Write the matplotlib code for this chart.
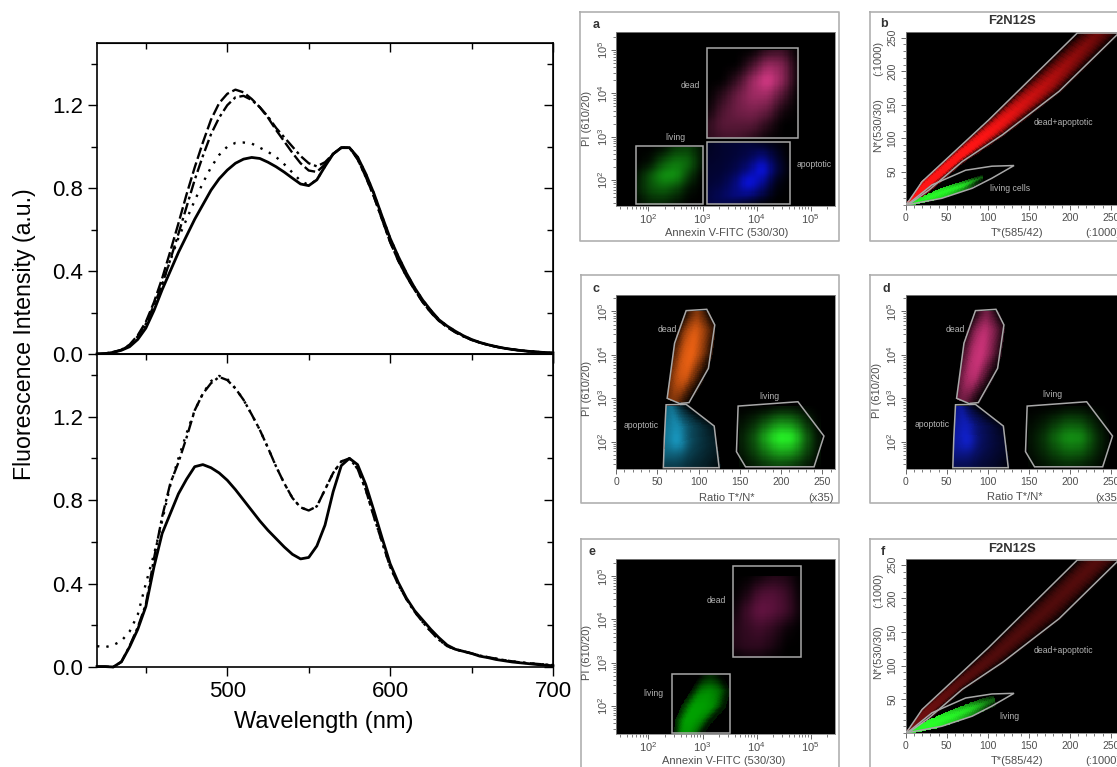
import numpy as np
import matplotlib
matplotlib.use("Agg")
import matplotlib.pyplot as plt
from matplotlib.colors import LinearSegmentedColormap
from matplotlib.ticker import MultipleLocator, FixedLocator, NullFormatter

plt.rcParams["font.family"] = ["Liberation Sans", "DejaVu Sans"]
plt.rcParams["mathtext.default"] = "regular"

# spectra, 5 nm steps
wl = np.arange(420, 705, 5)
a_solid_head = [0, .002, .008, .018, .035, .07, .125, .21, .31, .40, .49, .57, .65, .72, .79, .845, .887, .92, .94, .948, .943, .925, .903, .877, .848, .82, .812, .84, .905, .965, .995, .995]
a_dot_head = [0, .002, .008, .02, .04, .08, .14, .235, .34, .45, .56, .65, .74, .825, .9, .96, 1.0, 1.018, 1.02, 1.015, .995, .975, .95, .915, .875, .835, .815, .84, .905, .965, .995, .995]
a_dash_head = [0, .002, .01, .02, .045, .09, .155, .25, .365, .495, .63, .77, .9, 1.02, 1.13, 1.21, 1.255, 1.275, 1.262, 1.23, 1.19, 1.14, 1.08, 1.025, .97, .92, .885, .878, .915, .965, .995, .995]
a_dashdot_head = [0, .002, .008, .02, .04, .085, .145, .235, .335, .455, .58, .71, .84, .955, 1.06, 1.14, 1.2, 1.238, 1.245, 1.225, 1.19, 1.145, 1.09, 1.045, 1.0, .955, .92, .905, .925, .965, .995, .995]
a_tail = [.95, .87, .775, .665, .558, .47, .39, .32, .26, .21, .165, .135, .11, .088, .07, .056, .045, .036, .028, .022, .017, .013, .01, .007, .005]
a_tail_low = [.94, .855, .76, .65, .54, .45, .375, .31, .25, .2, .16, .13, .105, .085, .068, .055, .044, .035, .028, .022, .017, .013, .01, .007, .005]

b_solid_head = [.002, .002, 0, .025, .096, .18, .29, .48, .64, .735, .83, .90, .96, .97, .955, .93, .895, .85, .80, .75, .70, .655, .615, .575, .54, .518, .525, .58, .68, .84, .965, 1.0]
b_dashdot_head = [.002, .002, 0, .025, .1, .19, .3, .52, .72, .88, .98, 1.1, 1.23, 1.31, 1.36, 1.39, 1.375, 1.335, 1.28, 1.21, 1.136, 1.05, .96, .88, .81, .765, .75, .77, .85, .93, .985, 1.0]
b_dot_head = [.1, .095, .105, .125, .17, .25, .40, .54, .70, .87, 1.0, 1.12, 1.23, 1.31, 1.37, 1.395, 1.38, 1.335, 1.28, 1.21, 1.136, 1.05, .96, .88, .81, .765, .75, .77, .85, .93, .985, 1.0]
b_tail = [.97, .875, .75, .62, .495, .405, .33, .27, .225, .18, .14, .105, .085, .075, .065, .052, .045, .036, .03, .024, .02, .016, .012, .009, .006]
b_tail_low = [.95, .85, .72, .60, .48, .395, .325, .265, .215, .17, .13, .10, .085, .075, .065, .055, .047, .04, .033, .027, .022, .018, .015, .012, .009]

x_ticks = [500, 600, 700]
y_ticks = [0.0, 0.4, 0.8, 1.2]

# flow cytometry gates, in axis units (decades for the log axes)
a_gate_dead = [(3.08, 5.06), (4.76, 5.06), (4.76, 2.96), (3.08, 2.96)]
a_gate_apo = [(3.08, 2.88), (4.62, 2.88), (4.62, 1.45), (3.08, 1.45)]
a_gate_living = [(1.77, 2.78), (3.0, 2.78), (3.0, 1.45), (1.77, 1.45)]
e_gate_dead = [(3.56, 5.23), (4.82, 5.23), (4.82, 3.13), (3.56, 3.13)]
e_gate_living = [(2.43, 2.75), (3.51, 2.75), (3.51, 1.38), (2.43, 1.38)]
ratio_gate_dead = [(85, 5.02), (110, 5.05), (119.7, 4.69), (112, 3.69), (88.5, 2.9), (77, 2.88), (62, 3.0), (71, 4.27)]
ratio_gate_apo = [(60.7, 2.85), (85, 2.86), (119, 2.36), (125, 1.4), (57.4, 1.4), (58.6, 2.08)]
ratio_gate_living = [(148, 2.82), (220.5, 2.92), (252, 2.13), (240, 1.42), (157, 1.42), (146, 1.77)]
tn_gate_dead = [(1, 1), (20, 35), (101, 127), (209, 257), (275, 257), (258, 255), (187, 170), (118, 105), (69, 65), (28, 22), (5, 2)]
tn_gate_living = [(3, 1.5), (32, 30), (73, 52), (105, 58), (132, 59), (105, 40), (81, 25), (44, 10), (7, 1.5)]

# density clouds: left edge, right edge, levels read across them
a_dead_left = [(3.1, 5.0), (3.1, 4.65), (3.1, 4.3), (3.1, 3.95), (3.1, 3.6), (3.1, 3.3), (3.1, 3.0)]
a_dead_right = [(4.75, 5.0), (4.75, 4.65), (4.75, 4.3), (4.75, 3.95), (4.75, 3.6), (4.75, 3.3), (4.75, 3.0)]
a_dead_levels = [[0, 0, 0, 0, .2, .25, 0], [0, 0, 0, .3, .7, .6, .05], [0, 0, .25, .7, 1, .65, .05], [0, .2, .5, .7, .7, .35, 0], [.05, .35, .5, .55, .45, .1, 0], [.2, .4, .4, .4, .2, 0, 0], [.2, .3, .3, .2, .05, 0, 0]]
a_apo_left = [(3.1, 2.85), (3.1, 2.55), (3.1, 2.25), (3.1, 1.95), (3.1, 1.65), (3.1, 1.47)]
a_apo_right = [(4.6, 2.85), (4.6, 2.55), (4.6, 2.25), (4.6, 1.95), (4.6, 1.65), (4.6, 1.47)]
a_apo_levels = [[.12, .18, .2, .22, .12, .05, 0], [.15, .18, .22, .3, .5, .2, 0], [.18, .2, .28, .5, .95, .3, .02], [.2, .25, .45, .95, .6, .1, 0], [.25, .35, .5, .5, .25, .02, 0], [.25, .3, .25, .15, .05, 0, 0]]
a_living_left = [(1.8, 2.75), (1.8, 2.4), (1.8, 2.1), (1.8, 1.8), (1.8, 1.47)]
a_living_right = [(2.98, 2.75), (2.98, 2.4), (2.98, 2.1), (2.98, 1.8), (2.98, 1.47)]
a_living_levels = [[0, 0, .05, .3, .35, .1], [0, .1, .5, .7, .6, .1], [.1, .5, .85, .85, .35, 0], [.15, .45, .55, .4, .1, 0], [.05, .2, .2, .1, 0, 0]]

e_dead_left = [(3.58, 5.0), (3.58, 4.6), (3.58, 4.2), (3.58, 3.8), (3.58, 3.4), (3.58, 3.15)]
e_dead_right = [(4.8, 5.0), (4.8, 4.6), (4.8, 4.2), (4.8, 3.8), (4.8, 3.4), (4.8, 3.15)]
e_dead_levels = [[0, 0, .1, .25, .2, 0], [0, .2, .6, .65, .45, .05], [.1, .5, .8, .7, .5, .1], [.25, .4, .5, .35, .1, 0], [.25, .35, .35, .2, 0, 0], [.05, .15, .15, .05, 0, 0]]
e_living_left = [(2.95, 2.7), (2.8, 2.35), (2.62, 2.0), (2.5, 1.65), (2.48, 1.38)]
e_living_right = [(3.35, 2.7), (3.48, 2.35), (3.4, 2.0), (3.15, 1.65), (3.0, 1.38)]
e_living_levels = [[0, .1, .2, .1, 0], [.1, .8, .9, .7, .1], [.2, 1, 1, .9, .1], [.2, 1, 1, .8, .1], [.1, .9, .95, .7, .05]]

ratio_dead_left = [(85, 5.0), (74, 4.5), (70, 4.0), (66, 3.5), (63, 3.0)]
ratio_dead_right = [(112, 5.0), (119, 4.6), (115, 4.0), (103, 3.4), (88, 2.92)]
ratio_dead_levels = [[.05, .3, .5, .3, .05], [.1, .7, .9, .6, .15], [.3, .85, .95, .6, .1], [.45, .8, .85, .4, .05], [.4, .5, .4, .2, .05]]
ratio_apo_left = [(61, 2.8), (60, 2.4), (60, 2.0), (59, 1.7), (58, 1.42)]
ratio_apo_right = [(85, 2.82), (117, 2.35), (120, 2.0), (123, 1.7), (125, 1.42)]
ratio_apo_levels = [[.5, .6, .4, .2, .05], [.6, .75, .4, .25, .1], [.6, .85, .4, .25, .15], [.5, .5, .3, .2, .12], [.3, .3, .2, .15, .05]]
ratio_living_left = [(150, 2.8), (150, 2.45), (150, 2.1), (150, 1.8), (150, 1.45)]
ratio_living_right = [(246, 2.8), (246, 2.45), (246, 2.1), (246, 1.8), (246, 1.45)]
ratio_living_levels = [[0, 0, 0, .05, .05, 0, 0], [.05, .15, .35, .55, .5, .2, 0], [.1, .3, .7, 1, .95, .4, .05], [.08, .25, .5, .7, .65, .3, .05], [.02, .1, .2, .25, .2, .1, 0]]

tn_red_upper = [(1, 1), (20, 35), (60, 80), (101, 127), (155, 193), (209, 257), (258, 315)]
tn_red_lower = [(5, 2), (28, 22), (69, 65), (118, 105), (187, 170), (240, 233), (290, 290)]
tn_red_levels = [[.9, 1, 1, 1, .6], [.6, 1, 1, 1, .3], [.25, 1, 1, 1, .15], [.1, .85, 1, .85, .1], [0, .5, .75, .6, .05], [0, .3, .5, .35, 0], [0, .15, .25, .15, 0]]
b_green_upper = [(4, 3), (25, 15), (48, 27), (70, 35), (92, 44)]
b_green_lower = [(8, 2), (30, 8), (52, 15), (72, 24), (92, 37)]
b_green_levels = [[.8, 1, .8], [.9, 1, .9], [.8, 1, .8], [.5, 1, .5], [0, .4, 0]]
f_green_upper = [(3, 2), (30, 20), (55, 33), (80, 45), (105, 55)]
f_green_lower = [(6, 1), (33, 8), (60, 18), (85, 30), (108, 42)]
f_green_levels = [[.9, 1, .9], [1, 1, 1], [.8, 1, .8], [.5, .9, .5], [.05, .4, .05]]
f_red_levels = [[.9, 1, 1, 1, .6], [.5, 1, 1, 1, .2], [.15, .7, .8, .7, .1], [.05, .6, .75, .6, .05], [0, .55, .75, .55, .05], [0, .6, .8, .6, 0], [0, .5, .7, .5, 0]]

W, H = 1117, 767
fig = plt.figure(figsize=(W / 100, H / 100), dpi=100)
bg = fig.add_axes([0, 0, 1, 1])
bg.set_xlim(0, W)
bg.set_ylim(H, 0)
bg.axis("off")


def px_axes(x0, y0, x1, y1):
    return fig.add_axes([x0 / W, 1 - y1 / H, (x1 - x0) / W, (y1 - y0) / H])


def spectrum_axes(ax):
    ax.set_xlim(420, 700)
    ax.set_ylim(0, 1.5)
    ax.xaxis.set_major_locator(FixedLocator(x_ticks))
    ax.xaxis.set_minor_locator(FixedLocator([450, 550, 650]))
    ax.yaxis.set_major_locator(FixedLocator(y_ticks))
    ax.yaxis.set_minor_locator(MultipleLocator(0.2))
    ax.set_yticklabels(["%.1f" % v for v in y_ticks])
    ax.tick_params(which="major", length=6.5, width=1, labelsize=16, pad=3.5)
    ax.tick_params(which="minor", length=4, width=1)
    for s in ax.spines.values():
        s.set_linewidth(1.2)
    # top and right ticks point inwards
    twin_x = ax.secondary_xaxis("top")
    twin_x.xaxis.set_major_locator(FixedLocator(x_ticks))
    twin_x.xaxis.set_minor_locator(FixedLocator([450, 550, 650]))
    twin_x.tick_params(which="major", direction="in", length=6.5, width=1, labeltop=False)
    twin_x.tick_params(which="minor", direction="in", length=4, width=1)
    twin_x.xaxis.set_minor_formatter(NullFormatter())
    twin_y = ax.secondary_yaxis("right")
    twin_y.yaxis.set_major_locator(FixedLocator(y_ticks))
    twin_y.yaxis.set_minor_locator(MultipleLocator(0.2))
    twin_y.tick_params(which="major", direction="in", length=6.5, width=1, labelright=False)
    twin_y.tick_params(which="minor", direction="in", length=4, width=1)
    twin_y.yaxis.set_minor_formatter(NullFormatter())


dash = (0, (5, 1.6))
dashdot = (0, (5, 1.6, 1.2, 1.6))
dotted = (0, (1, 3))

ax_a = px_axes(97, 43, 553, 354)
ax_a.plot(wl, a_dot_head + a_tail, color="k", lw=1.7, ls=dotted, clip_on=False)
ax_a.plot(wl, a_dash_head + a_tail_low, color="k", lw=1.7, ls=dash, clip_on=False)
ax_a.plot(wl, a_dashdot_head + a_tail_low, color="k", lw=1.7, ls=dashdot, clip_on=False)
ax_a.plot(wl, a_solid_head + a_tail, color="k", lw=2.0, clip_on=False)
spectrum_axes(ax_a)
ax_a.set_xticklabels([])

ax_b = px_axes(97, 354, 553, 667)
ax_b.plot(wl, b_dot_head + b_tail_low, color="k", lw=1.7, ls=dotted, clip_on=False)
ax_b.plot(wl, b_dashdot_head + b_tail_low, color="k", lw=1.7, ls=dashdot, clip_on=False)
ax_b.plot(wl, b_solid_head + b_tail, color="k", lw=2.0, clip_on=False)
spectrum_axes(ax_b)
ax_b.set_xticklabels(["500", "600", "700"])

bg.text(126, 90, "a", fontsize=23, ha="center", va="baseline")
bg.text(124, 400, "b", fontsize=23, ha="center", va="baseline")
bg.text(25, 334, "Fluorescence Intensity (a.u.)", rotation=90, fontsize=16.7, ha="center", va="center")
bg.text(324, 722, "Wavelength (nm)", fontsize=17, ha="center", va="center")

GREY = "#4f4f4f"
LINE = "#b0b0b0"


def tint(rgb):
    c = tuple(v / 255 for v in rgb)
    return LinearSegmentedColormap.from_list("t", [(0, 0, 0), c])


def fine_rows(a, n):
    # refine along the first axis
    a = np.asarray(a, float)
    old = np.arange(a.shape[0])
    new = np.linspace(0, a.shape[0] - 1, (a.shape[0] - 1) * n + 1)
    return np.array([np.interp(new, old, col) for col in a.T]).T


def soften(a, k=9):
    pad = np.pad(a, k // 2, mode="edge")
    box = np.ones(k) / k
    pad = np.apply_along_axis(lambda v: np.convolve(v, box, mode="same"), 0, pad)
    pad = np.apply_along_axis(lambda v: np.convolve(v, box, mode="same"), 1, pad)
    return pad[k // 2:-(k // 2), k // 2:-(k // 2)]


def cloud(ax, left, right, levels, rgb):
    left = fine_rows(left, 12)
    right = fine_rows(right, 12)
    lv = fine_rows(levels, 12)
    lv = fine_rows(lv.T, 12).T
    lv = soften(lv)
    t = np.linspace(0, 1, lv.shape[1])[None, :]
    X = left[:, 0, None] * (1 - t) + right[:, 0, None] * t
    Y = left[:, 1, None] * (1 - t) + right[:, 1, None] * t
    ax.pcolormesh(X, Y, lv, shading="nearest", cmap=tint(rgb), vmin=0, vmax=1, zorder=1,
                  antialiased=False, linewidth=0.5, edgecolors="face")


def gate(ax, pts):
    ax.fill(*zip(*pts), fc="none", ec="#a8a8a8", lw=1.1, zorder=3)


def frame(x0, y0, x1, y1, letter, lx, ly):
    bg.plot([x0, x1, x1, x0, x0], [y0, y0, y1, y1, y0], color=LINE, lw=1.2, clip_on=True)
    bg.text(lx, ly, letter, fontsize=9, fontweight="bold", color="#333333", ha="center", va="center")


def decade_axis(axis, lim):
    axis.set_major_locator(FixedLocator([2, 3, 4, 5]))
    minors = [d + np.log10(m) for d in range(1, 6) for m in range(2, 10)]
    axis.set_minor_locator(FixedLocator([v for v in minors if lim[0] <= v <= lim[1]]))


def dark_axes(x0, y0, x1, y1, xlim, ylim, xlog, ylog):
    ax = px_axes(x0, y0, x1, y1)
    ax.set_facecolor("black")
    ax.set_xlim(*xlim)
    ax.set_ylim(*ylim)
    ax.tick_params(which="major", length=3.5, width=0.7, color="#666666", labelsize=7.5, labelcolor=GREY, pad=2.5)
    ax.tick_params(which="minor", length=2, width=0.6, color="#666666")
    if xlog:
        decade_axis(ax.xaxis, xlim)
        ax.set_xticklabels(["$10^{%d}$" % d for d in [2, 3, 4, 5]], fontsize=8)
        ax.tick_params(axis="x", which="major", pad=1)
    else:
        ax.xaxis.set_major_locator(MultipleLocator(50))
        ax.xaxis.set_minor_locator(MultipleLocator(10))
    if ylog:
        decade_axis(ax.yaxis, ylim)
        ax.set_yticklabels(["$10^{%d}$" % d for d in [2, 3, 4, 5]], rotation=90, va="center", fontsize=8)
        ax.tick_params(axis="y", which="major", pad=1)
    else:
        ax.yaxis.set_minor_locator(MultipleLocator(10))
        ax.set_yticks([50, 100, 150, 200, 250])
        ax.set_yticklabels(["50", "100", "150", "200", "250"], rotation=90, va="center")
    for s in ax.spines.values():
        s.set_color("#888888")
        s.set_linewidth(0.6)
    return ax


def tag(ax, x, y, s):
    ax.text(x, y, s, fontsize=6.2, color="#b5b5b5", ha="center", va="center", zorder=4, clip_on=False)


def side(x, y, s, rot=0):
    bg.text(x, y, s, fontsize=8, color=GREY, rotation=rot, ha="center", va="center")


log_x = (1.4, 5.44)
log_y = (1.4, 5.42)

# a
frame(580, 12, 839, 241, "a", 596, 25)
ax = dark_axes(616, 32, 834.5, 206, log_x, log_y, True, True)
cloud(ax, a_dead_left, a_dead_right, a_dead_levels, (225, 60, 140))
cloud(ax, a_apo_left, a_apo_right, a_apo_levels, (10, 20, 255))
cloud(ax, a_living_left, a_living_right, a_living_levels, (20, 175, 20))
for g in (a_gate_dead, a_gate_apo, a_gate_living):
    gate(ax, g)
tag(ax, 2.78, 4.19, "dead")
tag(ax, 2.5, 2.98, "living")
tag(ax, 5.07, 2.35, "apoptotic")
side(727, 233, "Annexin V-FITC (530/30)")
side(587, 118, "PI (610/20)", 90)

# b
frame(870, 12, 1130, 241, "b", 884, 24)
ax = dark_axes(905.7, 32, 1124, 205, (0, 266), (0, 258.6), False, False)
cloud(ax, tn_red_upper, tn_red_lower, tn_red_levels, (255, 20, 20))
cloud(ax, b_green_upper, b_green_lower, b_green_levels, (40, 255, 40))
gate(ax, tn_gate_dead)
gate(ax, tn_gate_living)
tag(ax, 192, 123, "dead+apoptotic")
tag(ax, 127, 25, "living cells")
bg.text(1012, 21, "F2N12S", fontsize=9.4, fontweight="bold", color="#333333", ha="center", va="center")
side(1017, 233, "T*(585/42)")
side(1103, 233, "(:1000)")
side(878, 125, "N*(530/30)", 90)
side(878, 58, "(:1000)", 90)

# c
frame(581, 275, 839, 503, "c", 596, 289)
ax = dark_axes(616, 295, 834.5, 469, (0, 264.8), (1.37, 5.38), False, True)
cloud(ax, ratio_dead_left, ratio_dead_right, ratio_dead_levels, (255, 105, 20))
cloud(ax, ratio_apo_left, ratio_apo_right, ratio_apo_levels, (30, 190, 240))
cloud(ax, ratio_living_left, ratio_living_right, ratio_living_levels, (40, 255, 40))
for g in (ratio_gate_dead, ratio_gate_apo, ratio_gate_living):
    gate(ax, g)
tag(ax, 62, 4.59, "dead")
tag(ax, 31, 2.38, "apoptotic")
tag(ax, 186, 3.04, "living")
side(727, 498, "Ratio T*/N*")
side(821, 498, "(x35)")
side(587, 388, "PI (610/20)", 90)

# d
frame(870, 275, 1130, 503, "d", 886, 289)
ax = dark_axes(905.7, 295, 1124, 469, (0, 266), (1.37, 5.38), False, True)
cloud(ax, ratio_dead_left, ratio_dead_right, ratio_dead_levels, (220, 55, 130))
cloud(ax, ratio_apo_left, ratio_apo_right, ratio_apo_levels, (20, 40, 255))
cloud(ax, ratio_living_left, ratio_living_right, ratio_living_levels, (20, 150, 20))
for g in (ratio_gate_dead, ratio_gate_apo, ratio_gate_living):
    gate(ax, g)
tag(ax, 60, 4.59, "dead")
tag(ax, 32, 2.4, "apoptotic")
tag(ax, 179, 3.09, "living")
side(1015, 497, "Ratio T*/N*")
side(1108, 498, "(x35)")
side(877, 390, "PI (610/20)", 90)

# e
frame(581, 539, 839, 775, "e", 592, 552)
ax = dark_axes(616, 559, 834.5, 734, log_x, (1.35, 5.4), True, True)
cloud(ax, e_dead_left, e_dead_right, e_dead_levels, (130, 25, 85))
cloud(ax, e_living_left, e_living_right, e_living_levels, (0, 160, 0))
gate(ax, e_gate_dead)
gate(ax, e_gate_living)
tag(ax, 3.25, 4.44, "dead")
tag(ax, 2.1, 2.29, "living")
side(724, 761, "Annexin V-FITC (530/30)")
side(587, 652, "PI (610/20)", 90)

# f
frame(870, 539, 1130, 775, "f", 883, 552)
ax = dark_axes(905.7, 559, 1124, 733, (0, 266), (0, 258.6), False, False)
cloud(ax, tn_red_upper, tn_red_lower, f_red_levels, (110, 15, 15))
cloud(ax, f_green_upper, f_green_lower, f_green_levels, (40, 255, 40))
gate(ax, tn_gate_dead)
gate(ax, tn_gate_living)
tag(ax, 192, 123, "dead+apoptotic")
tag(ax, 127, 25, "living")
bg.text(1012, 549, "F2N12S", fontsize=9.4, fontweight="bold", color="#333333", ha="center", va="center")
side(1017, 761, "T*(585/42)")
side(1103, 761, "(:1000)")
side(878, 652, "N*(530/30)", 90)
side(878, 590, "(:1000)", 90)

fig.savefig("out.png", dpi=100)
